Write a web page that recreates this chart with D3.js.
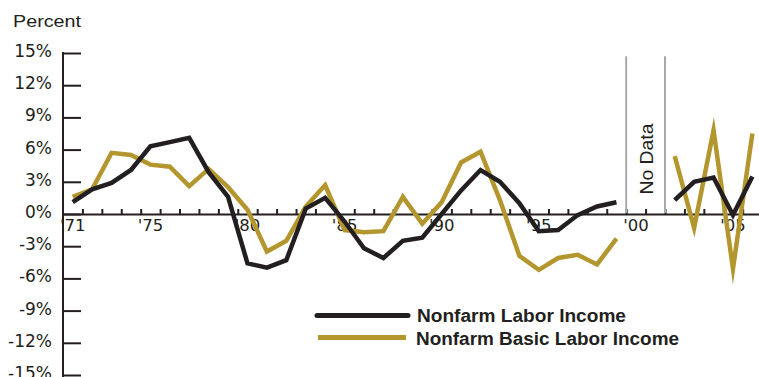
<!DOCTYPE html>
<html>
<head>
<meta charset="utf-8">
<script src="https://cdn.jsdelivr.net/npm/d3@7"></script>
<style>
  html, body { margin: 0; padding: 0; background: #fff; }
  svg { display: block; }
  text { font-family: "Liberation Sans", Arial, sans-serif; fill: #231f20; }
</style>
</head>
<body>
<svg id="chart" width="759" height="377"></svg>
<script>
// ---- data ----
const years = [1971,1972,1973,1974,1975,1976,1977,1978,1979,1980,
               1981,1982,1983,1984,1985,1986,1987,1988,1989,1990,
               1991,1992,1993,1994,1995,1996,1997,1998,1999,2000,
               2001,2002,2003,2004,2005,2006];
const laborIncome = [1.1,2.3,2.9,4.1,6.3,6.7,7.1,3.9,1.6,-4.6,
                     -5.0,-4.3,0.5,1.5,-0.7,-3.2,-4.1,-2.5,-2.2,0.0,
                     2.2,4.1,3.0,1.0,-1.6,-1.5,-0.1,0.7,1.1,null,
                     null,1.3,3.0,3.4,-0.1,3.5];
const basicLaborIncome = [1.6,2.3,5.7,5.5,4.6,4.4,2.6,4.2,2.5,0.4,
                          -3.5,-2.5,0.7,2.7,-1.5,-1.7,-1.6,1.6,-0.9,1.1,
                          4.8,5.8,1.3,-3.9,-5.2,-4.1,-3.8,-4.7,-2.3,null,
                          null,5.4,-1.3,7.8,-5.1,7.5];
const yTicks = [15,12,9,6,3,0,-3,-6,-9,-12,-15];
const xLabelYears = [1971,1975,1980,1985,1990,1995,2000,2005];
const xLabels = ["'71","'75","'80","'85","'90","'95","'00","'05"];
const noDataRange = [2000, 2002];
const seriesNames = ["Nonfarm Labor Income", "Nonfarm Basic Labor Income"];
const colors = ["#231f20", "#b4962f"];

const tickFont = '"DejaVu Sans", Verdana, sans-serif';

// ---- scales ----
const svg = d3.select("#chart");
const x = d3.scaleLinear().domain([1971, 2007]).range([63, 762.1]);
const y = d3.scaleLinear().domain([-15, 15]).range([375, 53]);

// y axis
const yAxis = d3.axisLeft(y).tickValues(yTicks).tickSize(-18).tickSizeOuter(0)
  .tickPadding(11).tickFormat(d => d + "%");
const gy = svg.append("g").attr("transform", `translate(${x(1971)},0)`).call(yAxis);
gy.select(".domain").remove();
gy.selectAll(".tick line").attr("stroke", "#231f20").attr("stroke-width", 2);
gy.selectAll(".tick text").attr("font-size", 17).attr("dy", "0.2em")
  .attr("fill", "#231f20").style("font-family", tickFont);
svg.append("line").attr("x1", x(1971)).attr("x2", x(1971))
  .attr("y1", y(15) - 1).attr("y2", 377)
  .attr("stroke", "#231f20").attr("stroke-width", 2);

// x axis
const xTickVals = d3.range(1972, 2007);
const xAxis = d3.axisBottom(x).tickValues(xTickVals).tickSize(-5).tickSizeOuter(0).tickFormat("");
const gx = svg.append("g").attr("transform", `translate(0,${y(0)})`).call(xAxis);
gx.select(".domain").attr("stroke", "#231f20").attr("stroke-width", 2);
gx.selectAll(".tick line").attr("stroke", "#231f20").attr("stroke-width", 2);
svg.append("g").selectAll("text").data(xLabelYears).join("text")
  .attr("x", d => x(d) - 3)
  .attr("y", y(0) + 17)
  .attr("font-size", 16.5)
  .style("font-family", tickFont)
  .text((d, i) => xLabels[i]);

// Percent label
svg.append("text").attr("x", 13).attr("y", 27).attr("font-size", 17)
  .attr("textLength", 68).attr("lengthAdjust", "spacingAndGlyphs").text("Percent");

// No data region
svg.append("g").selectAll("line").data(noDataRange).join("line")
  .attr("x1", d => x(d)).attr("x2", d => x(d))
  .attr("y1", y(14.7)).attr("y2", y(0) - 1)
  .attr("stroke", "#a7a9ac").attr("stroke-width", 2);
svg.append("text")
  .attr("transform", `translate(${(x(noDataRange[0]) + x(noDataRange[1])) / 2 + 7},${159}) rotate(-90)`)
  .attr("text-anchor", "middle").attr("font-size", 18)
  .attr("textLength", 71).attr("lengthAdjust", "spacingAndGlyphs")
  .text("No Data");

// lines
const line = d3.line()
  .defined(d => d[1] !== null)
  .x(d => x(d[0] + 0.5))
  .y(d => y(d[1]));
const series = [laborIncome, basicLaborIncome];
[1, 0].forEach(i => {
  svg.append("path")
    .datum(years.map((yr, j) => [yr, series[i][j]]))
    .attr("d", line)
    .attr("fill", "none")
    .attr("stroke", colors[i])
    .attr("stroke-width", 4.5)
    .attr("stroke-linejoin", "miter")
    .attr("stroke-miterlimit", 12);
});

// legend
const legend = [
  { x1: 317, x2: 408, y: 315.5, tx: 417, ty: 321.5, cap: "round", len: 209 },
  { x1: 318, x2: 406, y: 337.5, tx: 416, ty: 344.5, cap: "butt", len: 263 }
];
legend.forEach((l, i) => {
  svg.append("line").attr("x1", l.x1).attr("x2", l.x2).attr("y1", l.y).attr("y2", l.y)
    .attr("stroke", colors[i]).attr("stroke-width", 5).attr("stroke-linecap", l.cap);
  svg.append("text").attr("x", l.tx).attr("y", l.ty).attr("font-size", 18)
    .attr("font-weight", "bold")
    .attr("textLength", l.len).attr("lengthAdjust", "spacingAndGlyphs")
    .text(seriesNames[i]);
});
</script>
</body>
</html>
